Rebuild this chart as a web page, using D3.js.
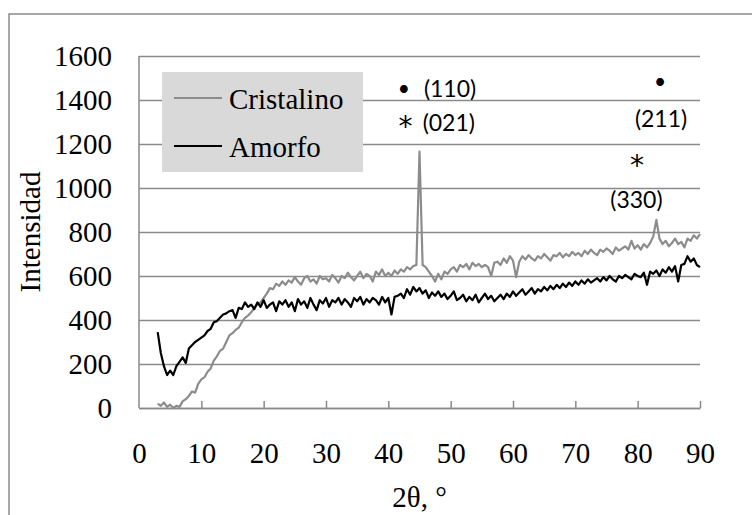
<!DOCTYPE html>
<html>
<head>
<meta charset="utf-8">
<script src="https://cdn.jsdelivr.net/npm/d3@7"></script>
<style>
  body { margin: 0; background: #fff; }
  .chart text { font-family: "Times New Roman", "Liberation Serif", serif; fill: #000; }
</style>
</head>
<body>
<div class="chart"></div>
<script>
var svgWidth = 752;
var svgHeight = 515;

var margin = { top: 56, right: 52, bottom: 107, left: 139 };
var width = svgWidth - margin.left - margin.right;
var height = svgHeight - margin.top - margin.bottom;

// sampling grid of the diffractograms, 2theta 3..90 every 0.5
var angles = d3.range(3, 90.01, 0.5);

// Cristalino intensities, rows of 5 degrees
var cristalino = [
    20, 10, 25, 5, 15, 0, 10, 5, 30, 40,
    55, 75, 70, 110, 130, 140, 165, 180, 215, 235,
    260, 270, 300, 330, 340, 355, 365, 390, 410, 420,
    435, 455, 470, 480, 500, 520, 545, 540, 565, 555,
    575, 560, 580, 570, 595, 575, 560, 590, 600, 575,
    585, 565, 600, 585, 590, 575, 605, 590, 570, 600,
    590, 615, 595, 580, 600, 620, 590, 610, 600, 575,
    620, 605, 630, 600, 615, 600, 625, 610, 630, 620,
    640, 630, 645, 650, 1165, 650, 640, 620, 600, 575,
    610, 585, 620, 610, 630, 640, 620, 650, 640, 655,
    630, 660, 645, 655, 640, 650, 640, 600, 660, 665,
    650, 680, 660, 690, 670, 595, 665, 690, 675, 695,
    680, 670, 690, 680, 700, 685, 670, 695, 690, 705,
    685, 700, 690, 710, 695, 705, 690, 715, 700, 720,
    705, 695, 720, 710, 725, 715, 700, 730, 715, 725,
    735, 720, 760, 725, 740, 720, 745, 730, 750, 780,
    855, 770, 745, 760, 735, 750, 770, 745, 755, 730,
    770, 760, 785, 770, 790
];

// Amorfo intensities
var amorfo = [
    345, 250, 190, 150, 170, 150, 190, 210, 230, 205,
    270, 285, 300, 310, 320, 330, 350, 360, 390, 395,
    410, 425, 430, 440, 445, 410, 455, 450, 480, 460,
    470, 450, 480, 460, 490, 455, 470, 480, 440, 485,
    470, 490, 460, 480, 440, 495, 470, 485, 455, 500,
    470, 445, 490, 475, 500, 460, 490, 480, 500, 470,
    495, 480, 460, 500, 485, 505, 470, 495, 480, 500,
    490, 470, 505, 480, 500, 425, 505, 510, 520, 500,
    540, 515, 550, 530, 545, 520, 535, 500, 525, 510,
    530, 505, 520, 495, 510, 530, 490, 500, 515, 485,
    505, 490, 515, 480, 500, 520, 495, 510, 485, 500,
    515, 495, 520, 505, 530, 510, 525, 540, 515, 530,
    545, 520, 540, 530, 550, 535, 555, 540, 560, 545,
    565, 550, 570, 555, 575, 560, 580, 565, 585, 570,
    580, 590, 575, 595, 580, 600, 585, 575, 600, 590,
    605, 595, 585, 610, 600, 595, 615, 560, 620, 610,
    625, 600, 630, 615, 640, 620, 645, 575, 650, 655,
    690, 665, 680, 650, 640
];

var seriesNames = ["Cristalino", "Amorfo"];
var seriesColors = ["#8c8c8c", "#000000"];

var xTicks = [0, 10, 20, 30, 40, 50, 60, 70, 80, 90];
var yTicks = [0, 200, 400, 600, 800, 1000, 1200, 1400, 1600];

// peak labels: text, 2theta, intensity of the baseline
var annText = ["\u2022", "(110)", "*", "(021)", "\u2022", "(211)", "*", "(330)"];
var annAngle = [42.5, 49.9, 42.75, 49.7, 83.6, 83.75, 79.9, 79.8];
var annLevel = [1420, 1414, 1236, 1259, 1448, 1277, 1059, 909];

var svg = d3.select(".chart")
    .append("svg")
    .attr("width", svgWidth)
    .attr("height", svgHeight);

// outer chart border
svg.append("rect")
    .attr("x", 9)
    .attr("y", 14)
    .attr("width", 800)
    .attr("height", 600)
    .attr("fill", "none")
    .attr("stroke", "#8a8a8a")
    .attr("stroke-width", 1.5);

var chartGroup = svg.append("g")
    .attr("transform", `translate(${margin.left}, ${margin.top})`);

var xScale = d3.scaleLinear().domain([0, 90]).range([0, width]);
var yScale = d3.scaleLinear().domain([0, 1600]).range([height, 0]);

// gridlines
var grid = chartGroup.append("g")
    .call(d3.axisLeft(yScale).tickValues(yTicks).tickSize(-width).tickFormat(""));
grid.select(".domain").remove();
grid.selectAll("line").attr("stroke", "#8a8a8a").attr("stroke-width", 1.5);

// y axis line + labels
chartGroup.append("line")
    .attr("x1", 0).attr("x2", 0)
    .attr("y1", 0).attr("y2", height)
    .attr("stroke", "#8a8a8a")
    .attr("stroke-width", 1.5);

var yAxis = chartGroup.append("g")
    .call(d3.axisLeft(yScale).tickValues(yTicks).tickFormat(d3.format("d")).tickSize(0).tickPadding(27));
yAxis.select(".domain").remove();
yAxis.selectAll("text")
    .style("font-family", "'Times New Roman', 'Liberation Serif', serif")
    .style("font-size", "29px")
    .attr("dy", "0.33em");

// x axis with inside ticks
var xAxis = chartGroup.append("g")
    .attr("transform", `translate(0, ${height})`)
    .call(d3.axisBottom(xScale).tickValues(xTicks).tickSizeInner(-7).tickSizeOuter(0));
xAxis.select(".domain").attr("stroke", "#8a8a8a").attr("stroke-width", 1.5);
xAxis.selectAll("line").attr("stroke", "#8a8a8a").attr("stroke-width", 1.5);
xAxis.selectAll("line").filter(d => d === 0).remove();
xAxis.selectAll("text")
    .style("font-family", "'Times New Roman', 'Liberation Serif', serif")
    .style("font-size", "29px")
    .attr("y", 55)
    .attr("dy", 0);

// series
var line = d3.line()
    .x((d, i) => xScale(angles[i]))
    .y(d => yScale(d));

[cristalino, amorfo].forEach(function(values, i) {
    chartGroup.append("path")
        .datum(values)
        .attr("fill", "none")
        .attr("stroke", seriesColors[i])
        .attr("stroke-width", 2.2)
        .attr("stroke-linejoin", "round")
        .attr("d", line);
});

// peak annotations (bullet / asterisk / Miller indices)
chartGroup.append("g")
    .selectAll("text")
    .data(annText)
    .enter()
    .append("text")
    .attr("x", (d, i) => xScale(annAngle[i]))
    .attr("y", (d, i) => yScale(annLevel[i]))
    .attr("text-anchor", "middle")
    .style("font-family", d => d === "*" ? "'DejaVu Sans', sans-serif" : "Lato, 'Open Sans', sans-serif")
    .style("font-size", d => d === "\u2022" ? "21px" : (d === "*" ? "28px" : "23px"))
    .text(d => d);

// legend
var legend = chartGroup.append("g")
    .attr("transform", "translate(23, 16)");
legend.append("rect")
    .attr("width", 201)
    .attr("height", 100)
    .attr("fill", "#d9d9d9");
seriesNames.forEach(function(name, i) {
    var ly = 26 + i * 48;
    legend.append("line")
        .attr("x1", 12).attr("x2", 60)
        .attr("y1", ly).attr("y2", ly)
        .attr("stroke", seriesColors[i])
        .attr("stroke-width", 2);
    legend.append("text")
        .attr("x", 67)
        .attr("y", ly + 11)
        .style("font-size", "29px")
        .text(name);
});

// axis titles
chartGroup.append("text")
    .attr("transform", "rotate(-90)")
    .attr("x", -height / 2)
    .attr("y", -99)
    .attr("text-anchor", "middle")
    .style("font-size", "29px")
    .text("Intensidad");

chartGroup.append("text")
    .attr("x", width / 2)
    .attr("y", height + 99)
    .attr("text-anchor", "middle")
    .style("font-size", "29px")
    .text("2\u03b8, \u00b0");
</script>
</body>
</html>
